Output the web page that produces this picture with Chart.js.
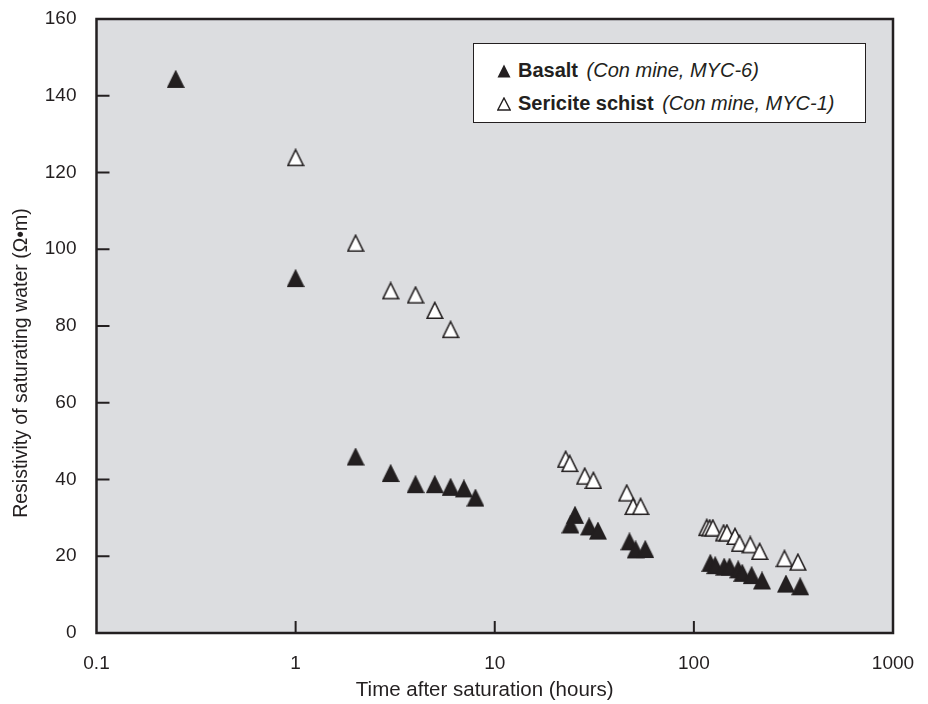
<!DOCTYPE html>
<html>
<head>
<meta charset="utf-8">
<script src="https://cdn.jsdelivr.net/npm/chart.js@4.4.1/dist/chart.umd.min.js"></script>
<style>
  body { margin: 0; background: #fff; }
  #wrap { position: relative; width: 928px; height: 704px; }
  #legend {
    position: absolute; left: 473px; top: 43px; width: 393px; height: 80px;
    box-sizing: border-box; border: 1.5px solid #231f20; background: #fff;
    font-family: "Liberation Sans", Arial, sans-serif; font-size: 20px; color: #231f20;
  }
  .row { position: absolute; left: 23px; height: 22px; line-height: 22px; white-space: nowrap; }
  .row svg { vertical-align: -1px; margin-right: 7px; }
  .row i { margin-left: 3px; }
</style>
</head>
<body>
<div id="wrap">
  <canvas id="resChart" width="928" height="704"></canvas>
  <div id="legend">
    <div class="row" style="top:15px">
      <svg width="14" height="14"><polygon points="7,0.5 13.5,13.5 0.5,13.5" fill="#231f20"/></svg><b>Basalt</b> <i>(Con mine, MYC-6)</i>
    </div>
    <div class="row" style="top:48px">
      <svg width="14" height="14"><polygon points="7,1 13.2,13 0.8,13" fill="#fff" stroke="#231f20" stroke-width="1.4"/></svg><b>Sericite schist</b> <i>(Con mine, MYC-1)</i>
    </div>
  </div>
</div>
<script>
const xTicks = [0.1, 1, 10, 100, 1000];
const yMin = 0, yMax = 160, yStep = 20;
const xTitle = 'Time after saturation (hours)';
const yTitle = 'Resistivity of saturating water (Ω•m)';

// Basalt (Con mine, MYC-6)
const basaltTime = [0.25, 1, 2, 3, 4, 5, 6, 7, 8, 25.3, 24, 29.8, 33, 47.5, 51, 57,
                    121, 128, 142, 151, 167, 175, 195, 220, 290, 342];
const basaltRes  = [143.6, 91.7, 45.2, 40.9, 38.0, 38.0, 37.3, 36.9, 34.5, 30.0, 27.5, 27.0, 25.9, 23.1, 21.0, 21.1,
                    17.5, 16.9, 16.5, 16.5, 15.8, 14.9, 14.3, 12.9, 12.1, 11.4];

// Sericite schist (Con mine, MYC-1)
const schistTime = [1, 2, 3, 4, 5, 6, 22.7, 23.8, 28.3, 31.3, 46, 49.5, 54,
                    116, 120, 124.5, 141, 146.5, 161, 169.5, 192, 214, 285, 333];
const schistRes  = [123.2, 100.9, 88.5, 87.4, 83.4, 78.4, 44.6, 43.5, 40.2, 39.1, 35.8, 32.3, 32.3,
                    26.8, 26.7, 26.7, 25.4, 25.4, 24.5, 22.7, 22.3, 20.6, 18.7, 17.8];

const ink = '#231f20';
const plotBg = '#dcdde0';
const font = 'Liberation Sans, Arial, sans-serif';

function triangleImage(fill) {
    const c = document.createElement('canvas');
    c.width = 18; c.height = 24;
    const g = c.getContext('2d');
    g.beginPath();
    g.moveTo(9, 1.5);
    g.lineTo(16.8, 17.3);
    g.lineTo(1.2, 17.3);
    g.closePath();
    g.fillStyle = fill;
    g.fill();
    g.lineWidth = 1.6;
    g.strokeStyle = ink;
    g.stroke();
    return c;
}

const toPoints = (xs, ys) => xs.map((x, i) => ({x: x, y: ys[i]}));

// grey plot area, frame, inward ticks and axis titles
const framePlugin = {
    id: 'frame',
    beforeDatasetsDraw(chart) {
        const {ctx, chartArea: a} = chart;
        ctx.save();
        ctx.fillStyle = plotBg;
        ctx.fillRect(a.left, a.top, a.right - a.left, a.bottom - a.top);
        ctx.restore();
    },
    afterDatasetsDraw(chart) {
        const {ctx, chartArea: a, scales} = chart;
        ctx.save();
        ctx.strokeStyle = ink;
        ctx.lineWidth = 2;
        ctx.beginPath();
        xTicks.slice(1, -1).forEach(v => {
            const px = scales.x.getPixelForValue(v);
            ctx.moveTo(px, a.bottom);
            ctx.lineTo(px, a.bottom - 12);
        });
        for (let v = yMin + yStep; v < yMax; v += yStep) {
            const py = scales.y.getPixelForValue(v);
            ctx.moveTo(a.left, py);
            ctx.lineTo(a.left + 13, py);
        }
        ctx.stroke();
        ctx.lineWidth = 2.5;
        ctx.strokeRect(a.left, a.top, a.right - a.left, a.bottom - a.top);

        ctx.fillStyle = ink;
        ctx.textAlign = 'center';
        ctx.textBaseline = 'middle';
        ctx.font = '20.5px ' + font;
        ctx.fillText(xTitle, (a.left + a.right) / 2 - 10, 690);
        ctx.font = '19.5px ' + font;
        ctx.translate(22, (a.top + a.bottom) / 2 + 37);
        ctx.rotate(-Math.PI / 2);
        ctx.fillText(yTitle, 0, 0);
        ctx.restore();
    }
};

new Chart(document.getElementById('resChart'), {
    type: 'scatter',
    data: {
        datasets: [
            {
                label: 'Basalt (Con mine, MYC-6)',
                data: toPoints(basaltTime, basaltRes),
                pointStyle: triangleImage(ink)
            },
            {
                label: 'Sericite schist (Con mine, MYC-1)',
                data: toPoints(schistTime, schistRes),
                pointStyle: triangleImage('#ffffff')
            }
        ]
    },
    options: {
        responsive: false,
        animation: false,
        layout: {autoPadding: false, padding: {top: 19, right: 35, left: 0, bottom: 0}},
        plugins: {legend: {display: false}, tooltip: {enabled: false}},
        scales: {
            x: {
                type: 'logarithmic',
                min: 0.1,
                max: 1000,
                afterBuildTicks: scale => { scale.ticks = xTicks.map(v => ({value: v})); },
                afterFit: scale => { scale.height = 71; },
                // hidden grid; tickLength only spaces the labels off the axis
                grid: {display: false, tickLength: 13},
                border: {display: false},
                ticks: {
                    color: ink,
                    font: {family: font, size: 19},
                    padding: 6,
                    maxRotation: 0,
                    autoSkip: false,
                    callback: v => String(v)
                }
            },
            y: {
                min: yMin,
                max: yMax,
                afterFit: scale => { scale.width = 96.5; },
                grid: {display: false, tickLength: 14},
                border: {display: false},
                ticks: {
                    stepSize: yStep,
                    color: ink,
                    font: {family: font, size: 19},
                    padding: 6
                }
            }
        }
    },
    plugins: [framePlugin]
});
</script>
</body>
</html>
